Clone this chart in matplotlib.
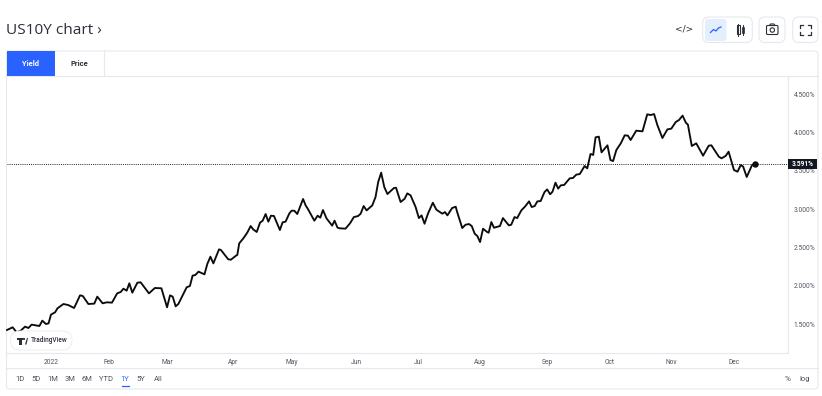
import matplotlib
matplotlib.use("Agg")
import matplotlib.pyplot as plt
from matplotlib.patches import FancyBboxPatch, Rectangle, Circle, Polygon

# sessions since the start of the 1Y window, and the yield at each turning point
sessions = [
    0, 1.9, 3.25, 4.6, 6.1, 7.2, 8.3, 10.9, 11.9, 13.1, 14, 14.8, 16.2, 17, 19, 20.6, 22.6, 24.6, 25.5, 27.4,
    29.4, 30.4, 32.2, 33.6, 35.35, 37.1, 38.3, 39.2, 40.3, 41.2, 42.2, 43.9, 45, 47.8, 49.8, 52, 53.9, 54.9, 55.8, 56.8,
    57.7, 60.5, 61.6, 62.5, 63.4, 64.5, 66.5, 67.45, 68.5, 69.5, 71.4, 72.05, 74.5, 75.4, 77.1, 77.55, 78.2, 79.6, 80.9, 82.05,
    82.9, 84.1, 85.2, 86.1, 87.1, 88, 88.9, 89.9, 91.9, 92.8, 93.8, 95.1, 95.85, 96.75, 97.75, 99.7, 100.6, 101.2, 103.5, 104.6,
    105.5, 106.4, 107.6, 109.5, 110.3, 111.3, 112.1, 114, 115.5, 116.8, 118.2, 119.1, 120.1, 121.1, 123, 124.1, 125, 126, 127.05, 128.1,
    130.3, 131, 132.55, 133.9, 134.8, 135.9, 137.6, 138.7, 139.6, 140.6, 141.75, 143.4, 144.6, 146.6, 147.5, 148.3, 149.9, 151.1, 151.6, 153.3,
    154.4, 155.6, 156.5, 157.5, 158.4, 159.3, 160.3, 161.7, 162.2, 163.1, 164, 166, 167, 169, 169.8, 170.9, 171.8, 173.2, 174.6, 175.8,
    176.7, 177.7, 178.6, 179.7, 181, 181.9, 182.9, 183.7, 184.7, 185.6, 186.5, 187.6, 189.5, 190.6, 191.7, 192.9, 194.5, 195.4, 196.5, 197.4,
    198.2, 199.3, 200.2, 202.2, 203.2, 204.1, 205.2, 206.7, 208, 209.1, 210, 211.9, 214, 215.6, 216.8, 217.9, 219, 220.7, 222.4, 223.7,
    225.2, 226.3, 227.5, 228.6, 229.3, 230.6, 232.1, 234.4, 236.3, 237.2, 239.7, 240.6, 242, 243, 244.8, 246, 247.1, 247.9, 249.1, 250.9,
    251.9,
]
yields = [
    1.426, 1.461, 1.396, 1.417, 1.470, 1.452, 1.496, 1.478, 1.548, 1.504, 1.513, 1.626, 1.657, 1.709, 1.765, 1.752, 1.713, 1.878, 1.870, 1.765,
    1.770, 1.861, 1.774, 1.787, 1.783, 1.904, 1.922, 1.965, 1.939, 2.035, 1.913, 2.043, 2.048, 1.904, 1.974, 1.970, 1.722, 1.878, 1.861, 1.735,
    1.765, 1.983, 2.000, 2.135, 2.143, 2.187, 2.152, 2.287, 2.382, 2.295, 2.478, 2.469, 2.348, 2.343, 2.395, 2.404, 2.556, 2.622, 2.695, 2.782,
    2.739, 2.704, 2.826, 2.852, 2.939, 2.839, 2.917, 2.913, 2.730, 2.830, 2.839, 2.948, 2.982, 2.982, 2.939, 3.135, 3.048, 3.013, 2.852, 2.917,
    2.891, 2.991, 2.882, 2.787, 2.852, 2.761, 2.752, 2.748, 2.817, 2.899, 2.912, 2.943, 3.043, 2.986, 3.051, 3.160, 3.356, 3.478, 3.291, 3.199,
    3.278, 3.282, 3.095, 3.138, 3.208, 3.182, 3.030, 2.886, 2.921, 2.812, 2.943, 3.086, 2.995, 2.943, 2.964, 2.921, 3.017, 3.034, 2.964, 2.756,
    2.799, 2.808, 2.782, 2.682, 2.651, 2.573, 2.747, 2.704, 2.695, 2.834, 2.760, 2.782, 2.886, 2.791, 2.799, 2.899, 2.886, 2.986, 3.043, 3.104,
    3.030, 3.043, 3.104, 3.108, 3.225, 3.260, 3.196, 3.230, 3.348, 3.270, 3.313, 3.317, 3.404, 3.409, 3.452, 3.461, 3.565, 3.535, 3.722, 3.709,
    3.939, 3.948, 3.743, 3.835, 3.643, 3.630, 3.774, 3.861, 3.965, 3.961, 3.904, 4.026, 4.017, 4.239, 4.230, 4.243, 4.100, 3.930, 4.043, 4.052,
    4.139, 4.165, 4.222, 4.130, 4.104, 3.826, 3.861, 3.700, 3.830, 3.835, 3.687, 3.665, 3.696, 3.752, 3.513, 3.491, 3.578, 3.557, 3.422, 3.578,
    3.591,
]
month_ticks = [14.8, 34.3, 53.9, 76.1, 96, 117.5, 138.4, 159.3, 181.8, 203, 223.6, 245]
month_labels = ["2022", "Feb", "Mar", "Apr", "May", "Jun", "Jul", "Aug", "Sep", "Oct", "Nov", "Dec"]
yield_ticks = [1.5, 2.0, 2.5, 3.0, 3.5, 4.0, 4.5]
last_yield = 3.591
ranges = ["1D", "5D", "1M", "3M", "6M", "YTD", "1Y", "5Y", "All"]
range_x = [20, 36, 53, 70, 87, 106, 125, 141, 158]

BORDER = "#e6e8ee"
INK = "#2a2e39"
BLUE = "#2962ff"
FONT = "Roboto"

fig = plt.figure(figsize=(8.22, 3.96), dpi=100, facecolor="white")

# page furniture lives on an overlay measured in screen pixels
ui = fig.add_axes([0, 0, 1, 1])
ui.set_xlim(0, 822)
ui.set_ylim(396, 0)
ui.axis("off")


def rounded(x0, y0, x1, y1, r=4, fc="none", ec=BORDER, lw=0.8, z=1):
    ui.add_patch(FancyBboxPatch((x0, y0), x1 - x0, y1 - y0, boxstyle=f"round,pad=0,rounding_size={r}",
                                fc=fc, ec=ec, lw=lw, zorder=z))


rounded(6.5, 51, 818, 389, r=3)
ui.plot([7, 818], [75.5, 75.5], color=BORDER, lw=0.8)
ui.plot([7, 818], [368, 368], color=BORDER, lw=0.8)
ui.plot([103.5, 103.5], [51, 75], color=BORDER, lw=0.8)
ui.add_patch(Rectangle((7, 51), 48, 24.5, fc=BLUE, ec="none", zorder=2))
ui.text(30.5, 63.5, "Yield", color="white", fontsize=5.4, fontweight="bold", family=FONT, ha="center", va="center", zorder=3)
ui.text(79, 63.5, "Price", color=INK, fontsize=5.4, fontweight="bold", family=FONT, ha="center", va="center")
ui.text(6, 30.5, "US10Y chart ›", color=INK, fontsize=11.1, family="Open Sans", ha="left", va="center")

# toolbar, top right
ui.text(684.5, 29.5, "</>", color=INK, fontsize=6.5, family="DejaVu Sans", ha="center", va="center")
rounded(702.7, 17, 752.3, 42.5, r=6)
rounded(705, 19, 726.5, 41, r=3, fc="#e3effd", ec="none", z=2)
ui.plot([710.5, 713.5, 716, 718.5, 721], [32.5, 29.5, 31, 28, 27], color=BLUE, lw=0.9, zorder=3)
ui.add_patch(Rectangle((736.5, 25), 3, 9, fc="none", ec=INK, lw=0.8))
ui.add_patch(Rectangle((741.5, 27), 2, 5.5, fc=INK, ec=INK, lw=0.5))
ui.plot([738, 738], [23.5, 36], color=INK, lw=0.7)
ui.plot([742.5, 742.5], [25, 35], color=INK, lw=0.7)
rounded(759, 17, 785, 42.5, r=6)
rounded(766.5, 25.5, 778, 34.5, r=1.2, ec=INK, lw=0.8)
ui.plot([769.5, 770.5, 774, 775], [25.5, 24, 24, 25.5], color=INK, lw=0.8)
ui.add_patch(Circle((772.3, 30), 2.2, fc="none", ec=INK, lw=0.8))
rounded(792.7, 17, 818, 42.5, r=6)
for cx, cy, dx, dy in [(800, 24.5, 1, 1), (811, 24.5, -1, 1), (800, 35, 1, -1), (811, 35, -1, -1)]:
    ui.plot([cx + 3 * dx, cx, cx], [cy, cy, cy + 3 * dy], color=INK, lw=0.9)

# range selector row
for label, x in zip(ranges, range_x):
    color = BLUE if label == "1Y" else "#50535e"
    ui.text(x, 379, label, color=color, fontsize=5.5, family=FONT, ha="center", va="center")
ui.plot([121.5, 129], [385.5, 385.5], color=BLUE, lw=0.9)
ui.text(788, 379, "%", color="#50535e", fontsize=6, family=FONT, ha="center", va="center")
ui.text(805, 379, "log", color="#50535e", fontsize=5.5, family=FONT, ha="center", va="center")

# the chart itself, from x 7-788 and y 76-353 on screen
ax = fig.add_axes([7 / 822, 1 - 353 / 396, 781 / 822, 277 / 396])
ax.patch.set_alpha(0)
ax.set_xlim(0, 263)
ax.set_ylim(1.126, 4.739)
ax.plot(sessions, yields, color="#0c0c0f", lw=1.35, solid_joinstyle="round", zorder=3, clip_on=False)
ax.axhline(last_yield, color="#222222", lw=0.7, linestyle=(0, (1, 1.2)), zorder=2)
ax.plot(sessions[-1], yields[-1], "o", color="#0c0c0f", ms=3.6, zorder=4)

for side in ["top", "left"]:
    ax.spines[side].set_visible(False)
for side in ["right", "bottom"]:
    ax.spines[side].set_color(BORDER)
    ax.spines[side].set_linewidth(0.8)

ax.yaxis.tick_right()
ax.set_yticks(yield_ticks)
ax.set_yticklabels([f"{t:.3f}%" for t in yield_ticks], fontsize=4.8, color="#50535e", family=FONT)
ax.set_xticks(month_ticks)
ax.set_xticklabels(month_labels, fontsize=4.8, color="#50535e", family=FONT)
ax.tick_params(axis="y", length=0, pad=4)
ax.tick_params(axis="x", length=0, pad=4.5)

# last value flag over the price scale
flag_w = 29 / 781
ax.add_patch(Rectangle((1.0, last_yield - 0.065), flag_w, 0.13, transform=ax.get_yaxis_transform(),
                       fc="#131722", ec="none", zorder=9, clip_on=False))
ax.text(1.0 + flag_w / 2, last_yield, "3.591%", transform=ax.get_yaxis_transform(), color="white", fontsize=4.8,
        fontweight="bold", family=FONT, ha="center", va="center", zorder=10, clip_on=False)

# TradingView badge
over = fig.add_axes([0, 0, 1, 1])
over.set_xlim(0, 822)
over.set_ylim(396, 0)
over.axis("off")
over.patch.set_alpha(0)
over.add_patch(FancyBboxPatch((10.5, 331), 61.5, 19, boxstyle="round,pad=0,rounding_size=9.5", fc="white", ec="#eceef2", lw=0.7))
over.add_patch(Rectangle((17, 338), 5.5, 2, fc=INK, ec="none"))
over.add_patch(Rectangle((19.3, 338), 2.6, 6.5, fc=INK, ec="none"))
over.add_patch(Circle((24, 339), 1.1, fc=INK, ec="none"))
over.add_patch(Polygon([[25, 344.5], [27, 338], [28, 338], [26.5, 344.5]], fc=INK, ec="none"))
over.text(31, 340.5, "TradingView", color=INK, fontsize=4.7, fontweight="medium", family=FONT, ha="left", va="center")

fig.savefig("out.png", dpi=100)
